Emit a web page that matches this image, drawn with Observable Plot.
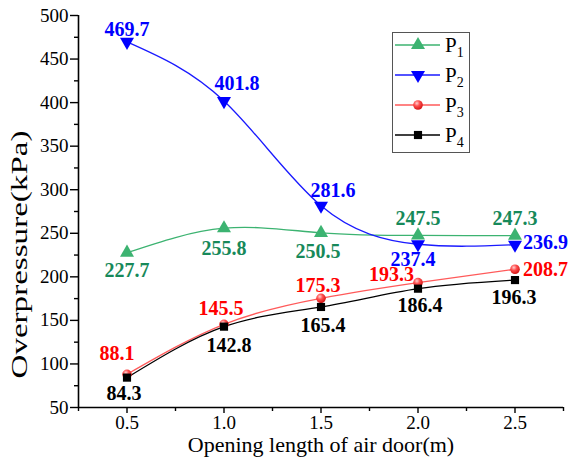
<!DOCTYPE html>
<html>
<head>
<meta charset="utf-8">
<script src="https://cdn.jsdelivr.net/npm/d3@7"></script>
<script src="https://cdn.jsdelivr.net/npm/@observablehq/plot@0.6"></script>
<style>
  body { margin: 0; background: #fff; }
  #wrap { position: relative; width: 569px; height: 469px; }
  #legend { position: absolute; left: 392px; top: 32px; }
</style>
</head>
<body>
<div id="wrap"></div>
<script>
// Opening length of the air door (m)
const openingLength = [0.5, 1.0, 1.5, 2.0, 2.5];

// Peak overpressure (kPa) at the four measuring points
const p1 = [227.7, 255.8, 250.5, 247.5, 247.3];
const p2 = [469.7, 401.8, 281.6, 237.4, 236.9];
const p3 = [88.1, 145.5, 175.3, 193.3, 208.7];
const p4 = [84.3, 142.8, 165.4, 186.4, 196.3];

const seriesNames = ["P1", "P2", "P3", "P4"];
const xTicks = [0.5, 1.0, 1.5, 2.0, 2.5];
const xMinorTicks = [0.25, 0.75, 1.25, 1.75, 2.25, 2.75];
const yTicks = [50, 100, 150, 200, 250, 300, 350, 400, 450, 500];
const yMinorTicks = [75, 125, 175, 225, 275, 325, 375, 425, 475];

// Styling for each series
const styles = {
  P1: {line: "#3cb371", marker: "#3cb371", label: "#17895a", symbol: "triangle", rotate: 0, r: 5.2},
  P2: {line: "#1a1aff", marker: "#0000ff", label: "#0000ff", symbol: "triangle", rotate: 180, r: 5.2},
  P3: {line: "#ff5a5a", marker: "url(#p3ball)", label: "#ff0000", symbol: "circle", rotate: 0, r: 4.8},
  P4: {line: "#000000", marker: "#000000", label: "#000000", symbol: "square", rotate: 0, r: 4.6}
};

// Where each value label sits relative to its marker: [dx, dy, anchor]
const labelPlacement = {
  P1: [[0, 18, "middle"], [0, 20, "middle"], [-3, 19, "middle"], [0, -17, "middle"], [0, -17, "middle"]],
  P2: [[0, -12, "middle"], [13, -17, "middle"], [12, -15, "middle"], [-5, 15, "middle"], [8, -2, "start"]],
  P3: [[-10, -21, "middle"], [-3, -16, "middle"], [-3, -13, "middle"], [-4, -8, "end"], [8, 0, "start"]],
  P4: [[-3, 16, "middle"], [5, 19, "middle"], [2, 19, "middle"], [2, 17, "middle"], [-1, 18, "middle"]]
};

const values = {P1: p1, P2: p2, P3: p3, P4: p4};
const rows = seriesNames.flatMap(s => openingLength.map((x, i) => ({series: s, x, y: values[s][i], i})));

const serif = "Liberation Serif";

const marks = [];
// series curves
for (const s of seriesNames) {
  const d = rows.filter(r => r.series === s);
  marks.push(Plot.line(d, {x: "x", y: "y", curve: "natural", stroke: styles[s].line, strokeWidth: 1.3}));
}
// markers
for (const s of seriesNames) {
  const d = rows.filter(r => r.series === s);
  const st = styles[s];
  marks.push(Plot.dot(d, {x: "x", y: "y", symbol: () => st.symbol, r: st.r, fill: st.marker, stroke: "none", rotate: st.rotate}));
}
// value labels
for (const s of seriesNames) {
  const d = rows.filter(r => r.series === s);
  for (const r of d) {
    const [dx, dy, anchor] = labelPlacement[s][r.i];
    marks.push(Plot.text([r], {
      x: "x", y: "y", text: r => r.y.toFixed(1), dx, dy, textAnchor: anchor,
      fill: styles[s].label, fontWeight: "bold", fontSize: 20, fontFamily: serif
    }));
  }
}

const chart = Plot.plot({
  width: 569,
  height: 469,
  marginLeft: 78,
  marginRight: 6,
  marginTop: 15,
  marginBottom: 62,
  style: {fontFamily: serif, fontSize: "19px", color: "#000", background: "#fff", overflow: "visible"},
  x: {domain: [0.25, 2.75]},
  y: {domain: [50, 500]},
  marks: [
    Plot.axisX(xTicks, {tickSize: 6, tickPadding: 2, tickFormat: d3.format(".1f"), strokeWidth: 1.4, label: null, fontSize: 19}),
    Plot.axisX(xMinorTicks, {tickSize: 4, strokeWidth: 1.4, text: null, label: null}),
    Plot.axisY(yTicks, {tickSize: 8, tickPadding: 2, strokeWidth: 1.4, label: null, fontSize: 19}),
    Plot.axisY(yMinorTicks, {tickSize: 4, strokeWidth: 1.4, text: null, label: null}),
    Plot.ruleY([50], {stroke: "#000", strokeWidth: 1.6}),
    Plot.ruleX([0.25], {stroke: "#000", strokeWidth: 1.6}),
    ...marks,
    Plot.text(["Opening length of air door(m)"], {frameAnchor: "bottom", lineAnchor: "middle", textAnchor: "middle", dy: 37, fontSize: 22, fontFamily: serif, fill: "#000"}),
    Plot.text(["Overpressure(kPa)"], {frameAnchor: "left", lineAnchor: "middle", textAnchor: "middle", dx: -59, dy: 43, rotate: -90, fontSize: 24, fontFamily: serif, fill: "#000", className: "ytitle"})
  ]
});

// the vertical title runs along most of the axis
d3.select(chart).selectAll(".ytitle text").attr("textLength", 248).attr("lengthAdjust", "spacingAndGlyphs");

// shaded ball used for the P3 markers
const defs = d3.select(chart).insert("defs", ":first-child");
const grad = defs.append("radialGradient").attr("id", "p3ball").attr("cx", "38%").attr("cy", "32%").attr("r", "65%");
grad.append("stop").attr("offset", "0%").attr("stop-color", "#ffd0d0");
grad.append("stop").attr("offset", "45%").attr("stop-color", "#ff5050");
grad.append("stop").attr("offset", "100%").attr("stop-color", "#d81818");

document.getElementById("wrap").appendChild(chart);

// legend box
const lw = 78, lh = 121;
const legend = d3.select("#wrap").append("svg")
  .attr("id", "legend").attr("width", lw).attr("height", lh)
  .style("font-family", serif);
legend.append("rect").attr("x", 0.5).attr("y", 0.5).attr("width", lw - 1).attr("height", lh - 1)
  .attr("fill", "#fff").attr("stroke", "#555").attr("stroke-width", 1);
legend.append("defs").node().appendChild(grad.node().cloneNode(true));
legend.select("defs radialGradient").attr("id", "p3ballLegend");

const symbolType = {triangle: d3.symbolTriangle, circle: d3.symbolCircle, square: d3.symbolSquare};
seriesNames.forEach((s, k) => {
  const st = styles[s];
  const cy = 13 + k * 30;
  const g = legend.append("g");
  g.append("line").attr("x1", 3).attr("x2", 48).attr("y1", cy).attr("y2", cy)
    .attr("stroke", st.line).attr("stroke-width", 1.3);
  g.append("path")
    .attr("d", d3.symbol(symbolType[st.symbol], Math.PI * st.r * st.r)())
    .attr("transform", `translate(26,${cy}) rotate(${st.rotate})`)
    .attr("fill", s === "P3" ? "url(#p3ballLegend)" : st.marker);
  const t = g.append("text").attr("x", 53).attr("y", cy + 7).attr("font-size", 21).attr("fill", "#000");
  t.append("tspan").text(s[0]);
  t.append("tspan").attr("font-size", 14).attr("dy", 5).text(s.slice(1));
});
</script>
</body>
</html>
